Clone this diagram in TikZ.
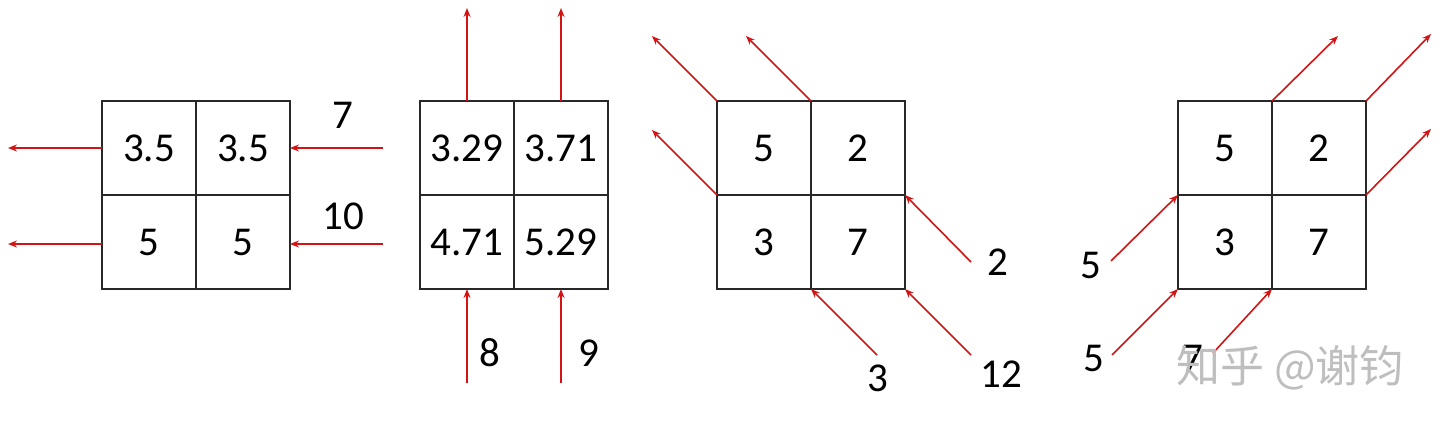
\documentclass[tikz,border=0pt]{standalone}
\usepackage{fontspec}
\setmainfont{Carlito}
\newfontfamily\cjk{Noto Sans CJK SC}
\usetikzlibrary{arrows.meta}
\definecolor{arrred}{RGB}{210,20,20}
\definecolor{boxline}{RGB}{40,40,40}
\definecolor{wm}{RGB}{190,190,190}
\tikzset{
  cell/.style={draw=boxline, line width=1.6pt, minimum width=94pt, minimum height=94pt,
    inner sep=0pt, outer sep=0pt, font=\fontsize{41}{43}\selectfont},
  lbl/.style={inner sep=0pt, font=\fontsize{41}{43}\selectfont},
  flow/.style={draw=arrred, line width=1.6pt, -{Stealth[length=9pt,width=7pt]}},
}
\begin{document}
\begin{tikzpicture}[x=1pt,y=-1pt]
\useasboundingbox (0,0) rectangle (1440,428);
% Grid 1
\node[cell] (a11) at (149,148) {3.5};
\node[cell] (a12) at (243,148) {3.5};
\node[cell] (a21) at (149,242) {5};
\node[cell] (a22) at (243,242) {5};
\coordinate (a1l) at (8,148);
\coordinate (a2l) at (8,244);
\coordinate (a1r) at (383,148);
\coordinate (a2r) at (383,244);
\draw[flow] (a11.west) -- (a1l);
\draw[flow] (a21.west |- a2l) -- (a2l);
\draw[flow] (a1r) -- (a12.east);
\draw[flow] (a2r) -- (a22.east |- a2r);
\node[lbl] (l7) at (343,115) {7};
\node[lbl] (l10) at (343,216) {10};
% Grid 2
\node[cell] (b11) at (467,148) {3.29};
\node[cell] (b12) at (561,148) {3.71};
\node[cell] (b21) at (467,242) {4.71};
\node[cell] (b22) at (561,242) {5.29};
\coordinate (b1t) at (467,8);
\coordinate (b2t) at (561,8);
\coordinate (b1b) at (467,383);
\coordinate (b2b) at (561,383);
\draw[flow] (b11.north) -- (b1t);
\draw[flow] (b12.north) -- (b2t);
\draw[flow] (b1b) -- (b21.south);
\draw[flow] (b2b) -- (b22.south);
\node[lbl] (l8) at (490,353) {8};
\node[lbl] (l9) at (589,353) {9};
% Grid 3
\node[cell] (c11) at (764,148) {5};
\node[cell] (c12) at (858,148) {2};
\node[cell] (c21) at (764,242) {3};
\node[cell] (c22) at (858,242) {7};
\coordinate (c1o) at (652,36);
\coordinate (c2o) at (746,36);
\coordinate (c3o) at (652,130);
\coordinate (c1i) at (971,262);
\coordinate (c2i) at (877,355);
\coordinate (c3i) at (971,355);
\draw[flow] (c11.north west) -- (c1o);
\draw[flow] (c12.north west) -- (c2o);
\draw[flow] (c21.north west) -- (c3o);
\draw[flow] (c1i) -- (c22.north east);
\draw[flow] (c2i) -- (c22.south west);
\draw[flow] (c3i) -- (c22.south east);
\node[lbl] (l2) at (998,262) {2};
\node[lbl] (l3) at (878,378) {3};
\node[lbl] (l12) at (1001,374) {12};
% Grid 4
\node[cell] (d11) at (1225,148) {5};
\node[cell] (d12) at (1319,148) {2};
\node[cell] (d21) at (1225,242) {3};
\node[cell] (d22) at (1319,242) {7};
\coordinate (d1o) at (1338,36);
\coordinate (d2o) at (1431,34);
\coordinate (d3o) at (1431,129);
\coordinate (d1i) at (1111,261);
\coordinate (d2i) at (1112,355);
\coordinate (d3i) at (1213,353);
\draw[flow] (d12.north west) -- (d1o);
\draw[flow] (d12.north east) -- (d2o);
\draw[flow] (d22.north east) -- (d3o);
\draw[flow] (d1i) -- (d21.north west);
\draw[flow] (d2i) -- (d21.south west);
\draw[flow] (d3i) -- (d22.south west);
\node[lbl] (l5a) at (1091,265) {5};
\node[lbl] (l5b) at (1094,358) {5};
\node[lbl] (l7b) at (1193,358) {7};
% watermark
\node[inner sep=0pt, text=wm, font=\cjk\fontsize{44}{46}\selectfont] (wmk) at (1290,368) {知乎 @谢钧};
\end{tikzpicture}
\end{document}
